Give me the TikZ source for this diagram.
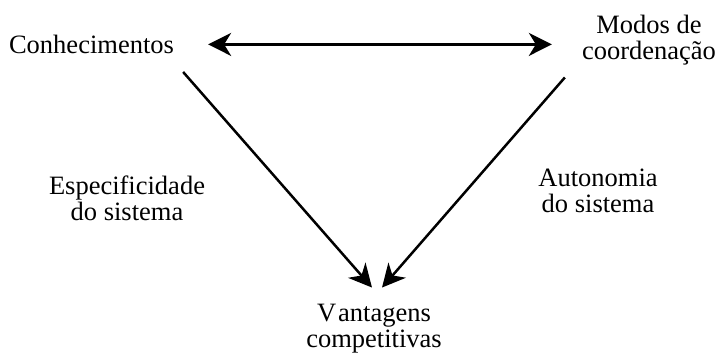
\documentclass[tikz,border=0pt]{standalone}
\usepackage{fontspec}
\setmainfont{Liberation Serif}
\usetikzlibrary{arrows.meta,calc}
\tikzset{
  tip/.tip={Stealth[length=23pt,width=23pt,inset=7pt]},
  lbl/.style={inner sep=0pt, align=center, font=\fontsize{26.5}{26.5}\selectfont},
  conn/.style={line width=2.5pt, -tip},
  dconn/.style={line width=2.5pt, tip-tip}
}
\begin{document}
\begin{tikzpicture}[x=1pt,y=1pt]
\useasboundingbox (0,0) rectangle (719,353);
\node[lbl] (k) at (91.5,308.6) {Conhecimentos};
\node[lbl] (m) at (649,313) {Modos de\\coordenação};
\node[lbl] (e) at (127,154.5) {Especificidade\\do sistema};
\node[lbl] (a) at (598,162) {Autonomia\\do sistema};
\node[lbl] (v) at (374,24.5) {V\kern2pt antagens\\competitivas};
\draw[dconn, shorten <=34pt, shorten >=30pt] (k.east) -- (k.east -| m.west);
\draw[conn] ($(k.east)+(9,-27.6)$) -- ($(v.north)+(-2,16)$);
\draw[conn] ($(m.south west)+(-17,-12)$) -- ($(v.north)+(8,16)$);
\end{tikzpicture}
\end{document}
